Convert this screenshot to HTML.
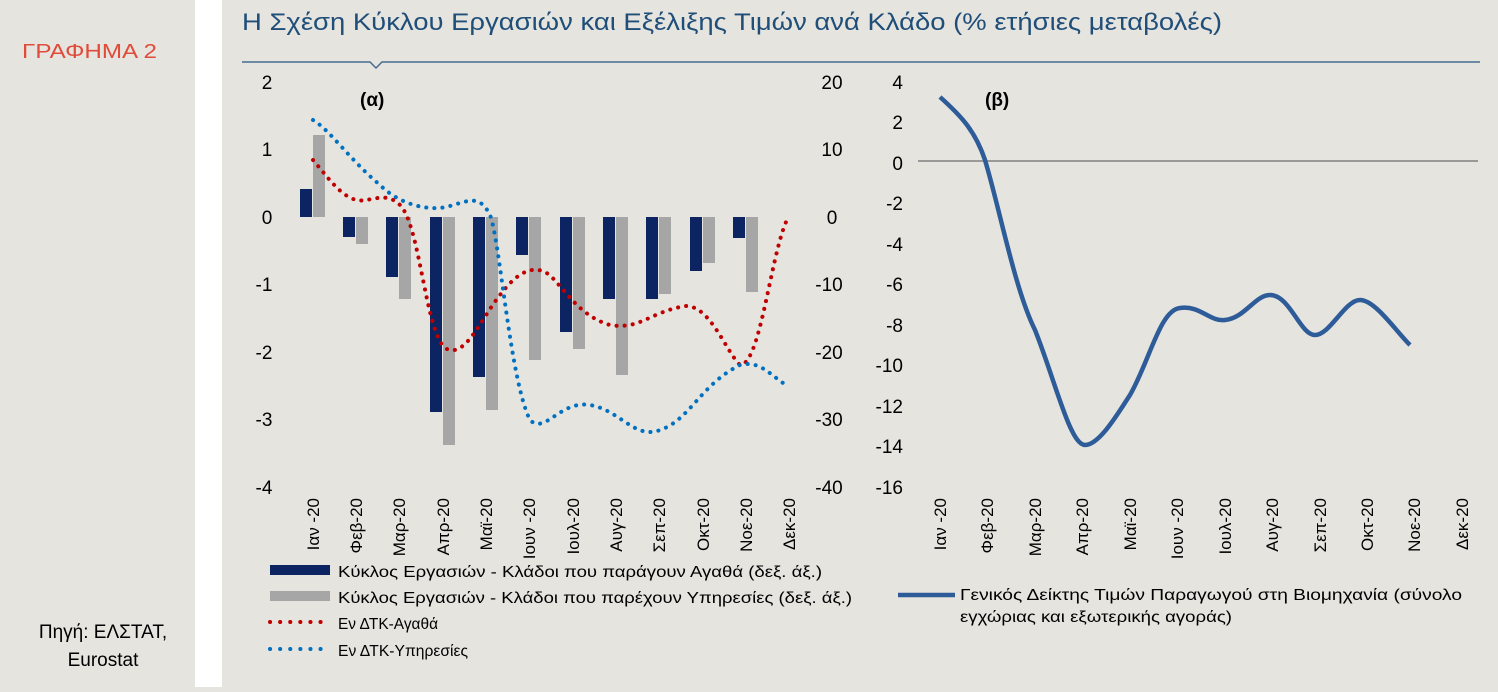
<!DOCTYPE html>
<html><head><meta charset="utf-8"><style>
body{margin:0;width:1498px;height:687px;overflow:hidden;background:#e6e4df;font-family:"Liberation Sans",sans-serif;}
</style></head><body>
<svg width="1498" height="687" xmlns="http://www.w3.org/2000/svg" font-family="Liberation Sans, sans-serif">
<rect width="1498" height="687" fill="#e6e4df"/>
<rect x="195" y="0" width="27" height="687" fill="#ffffff"/>
<text x="22" y="58" font-size="20" fill="#e04b3a" textLength="135" lengthAdjust="spacingAndGlyphs">ΓΡΑΦΗΜΑ 2</text>
<text x="103" y="638" font-size="19" fill="#000" text-anchor="middle">Πηγή: ΕΛΣΤΑΤ,</text>
<text x="103" y="666" font-size="19" fill="#000" text-anchor="middle">Eurostat</text>
<text x="242" y="30" font-size="24" fill="#1f4e79" textLength="980" lengthAdjust="spacingAndGlyphs">Η Σχέση Κύκλου Εργασιών και Εξέλιξης Τιμών ανά Κλάδο (% ετήσιες μεταβολές)</text>
<polyline points="242,62 370,62 376,68 382,62 1480,62" fill="none" stroke="#1f4e79" stroke-width="1.5" opacity="0.8"/>
<g font-size="19" fill="#000" text-anchor="middle">
<text x="267" y="89">2</text><text x="267" y="156">1</text><text x="267" y="224">0</text>
<text x="264" y="291">-1</text><text x="264" y="359">-2</text><text x="264" y="426">-3</text><text x="264" y="494">-4</text>
<text x="832" y="89">20</text><text x="832" y="156">10</text><text x="832" y="224">0</text>
<text x="829" y="291">-10</text><text x="829" y="359">-20</text><text x="829" y="426">-30</text><text x="829" y="494">-40</text>
</g>
<text x="360" y="106" font-size="19" font-weight="bold">(α)</text>
<g fill="#0c2461">
<rect x="300" y="189" width="12" height="28"/>
<rect x="343" y="217" width="12" height="20"/>
<rect x="386" y="217" width="12" height="60"/>
<rect x="430" y="217" width="12" height="195"/>
<rect x="473" y="217" width="12" height="160"/>
<rect x="516" y="217" width="12" height="38"/>
<rect x="560" y="217" width="12" height="115"/>
<rect x="603" y="217" width="12" height="82"/>
<rect x="646" y="217" width="12" height="82"/>
<rect x="690" y="217" width="12" height="54"/>
<rect x="733" y="217" width="12" height="21"/>
</g>
<g fill="#a6a6a6">
<rect x="313" y="135" width="12" height="82"/>
<rect x="356" y="217" width="12" height="27"/>
<rect x="399" y="217" width="12" height="82"/>
<rect x="443" y="217" width="12" height="228"/>
<rect x="486" y="217" width="12" height="193"/>
<rect x="529" y="217" width="12" height="143"/>
<rect x="573" y="217" width="12" height="132"/>
<rect x="616" y="217" width="12" height="158"/>
<rect x="659" y="217" width="12" height="77"/>
<rect x="703" y="217" width="12" height="46"/>
<rect x="746" y="217" width="12" height="75"/>
</g>
<path d="M313,160 C330,180 340,195 356,200 C370,203 385,190 400,205 C420,225 425,330 445,348 C465,360 480,320 500,295 C515,275 530,265 545,272 C560,280 575,315 610,325 C640,330 650,312 685,306 C710,305 725,350 740,365 C760,365 770,260 786,222" fill="none" stroke="#c00000" stroke-width="4" stroke-dasharray="0.1 8" stroke-linecap="round"/>
<path d="M313,120 C330,130 350,160 380,185 C400,205 430,212 450,206 C470,200 480,195 490,215 C500,240 510,380 530,420 C545,435 560,400 590,405 C620,410 635,440 660,430 C690,420 700,385 740,365 C760,360 770,375 786,385" fill="none" stroke="#0070c0" stroke-width="4" stroke-dasharray="0.1 8" stroke-linecap="round"/>
<g font-size="17" fill="#000" text-anchor="end">
<text transform="translate(319,498) rotate(-90)">Ιαν -20</text>
<text transform="translate(362,498) rotate(-90)">Φεβ-20</text>
<text transform="translate(405,498) rotate(-90)">Μαρ-20</text>
<text transform="translate(449,498) rotate(-90)">Απρ-20</text>
<text transform="translate(492,498) rotate(-90)">Μαϊ-20</text>
<text transform="translate(535,498) rotate(-90)">Ιουν -20</text>
<text transform="translate(579,498) rotate(-90)">Ιουλ-20</text>
<text transform="translate(622,498) rotate(-90)">Αυγ-20</text>
<text transform="translate(665,498) rotate(-90)">Σεπ-20</text>
<text transform="translate(709,498) rotate(-90)">Οκτ-20</text>
<text transform="translate(752,498) rotate(-90)">Νοε-20</text>
<text transform="translate(795,498) rotate(-90)">Δεκ-20</text>
</g>
<rect x="270" y="565" width="60" height="10" fill="#0c2461"/>
<rect x="270" y="591" width="60" height="10" fill="#a6a6a6"/>
<line x1="270" y1="622" x2="330" y2="622" stroke="#c00000" stroke-width="4" stroke-dasharray="0.1 10" stroke-linecap="round"/>
<line x1="270" y1="649" x2="330" y2="649" stroke="#0070c0" stroke-width="4" stroke-dasharray="0.1 10" stroke-linecap="round"/>
<g font-size="16" fill="#000">
<text x="338" y="577" textLength="484" lengthAdjust="spacingAndGlyphs">Κύκλος Εργασιών  - Κλάδοι που παράγουν Αγαθά (δεξ. άξ.)</text>
<text x="338" y="603" textLength="514" lengthAdjust="spacingAndGlyphs">Κύκλος Εργασιών  - Κλάδοι που παρέχουν Υπηρεσίες (δεξ. άξ.)</text>
<text x="338" y="629" textLength="100" lengthAdjust="spacingAndGlyphs">Εν ΔΤΚ-Αγαθά</text>
<text x="338" y="656" textLength="130" lengthAdjust="spacingAndGlyphs">Εν ΔΤΚ-Υπηρεσίες</text>
</g>
<g font-size="19" fill="#000" text-anchor="end">
<text x="903" y="89">4</text><text x="903" y="129">2</text><text x="903" y="170">0</text>
<text x="903" y="210">-2</text><text x="903" y="251">-4</text><text x="903" y="291">-6</text>
<text x="903" y="332">-8</text><text x="903" y="372">-10</text><text x="903" y="413">-12</text>
<text x="903" y="453">-14</text><text x="903" y="494">-16</text>
</g>
<text x="985" y="106" font-size="19" font-weight="bold">(β)</text>
<line x1="918" y1="161" x2="1478" y2="161" stroke="#808080" stroke-width="1.5"/>
<path d="M940,97 C960,115 975,130 985,160 C1000,210 1015,290 1035,330 C1055,380 1070,445 1085,445 C1100,445 1120,410 1130,395 C1150,360 1160,310 1180,308 C1200,305 1210,322 1225,320 C1245,318 1255,295 1270,295 C1290,295 1300,335 1315,335 C1330,335 1345,300 1360,300 C1375,300 1395,330 1410,345" fill="none" stroke="#2e5c99" stroke-width="4.5"/>
<g font-size="17" fill="#000" text-anchor="end">
<text transform="translate(946,498) rotate(-90)">Ιαν -20</text>
<text transform="translate(993,498) rotate(-90)">Φεβ-20</text>
<text transform="translate(1041,498) rotate(-90)">Μαρ-20</text>
<text transform="translate(1088,498) rotate(-90)">Απρ-20</text>
<text transform="translate(1136,498) rotate(-90)">Μαϊ-20</text>
<text transform="translate(1183,498) rotate(-90)">Ιουν -20</text>
<text transform="translate(1231,498) rotate(-90)">Ιουλ-20</text>
<text transform="translate(1278,498) rotate(-90)">Αυγ-20</text>
<text transform="translate(1326,498) rotate(-90)">Σεπ-20</text>
<text transform="translate(1373,498) rotate(-90)">Οκτ-20</text>
<text transform="translate(1420,498) rotate(-90)">Νοε-20</text>
<text transform="translate(1468,498) rotate(-90)">Δεκ-20</text>
</g>
<line x1="898" y1="595" x2="955" y2="595" stroke="#2e5c99" stroke-width="4.5"/>
<g font-size="16" fill="#000">
<text x="960" y="600" textLength="502" lengthAdjust="spacingAndGlyphs">Γενικός Δείκτης Τιμών  Παραγωγού  στη Βιομηχανία (σύνολο</text>
<text x="960" y="622" textLength="272" lengthAdjust="spacingAndGlyphs">εγχώριας  και εξωτερικής αγοράς)</text>
</g>
</svg>
</body></html>
